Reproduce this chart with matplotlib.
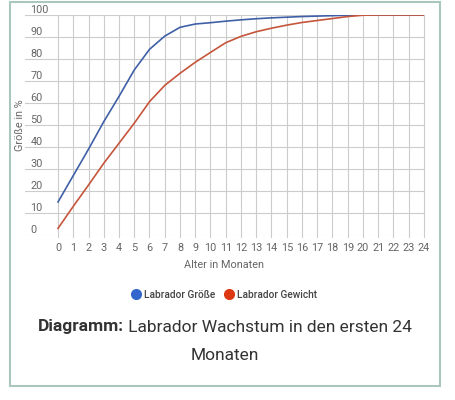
import matplotlib.pyplot as plt
from matplotlib.lines import Line2D
from matplotlib.patches import Rectangle

plt.rcParams['font.family'] = ['Roboto', 'DejaVu Sans']

# Daten (Alter in Monaten, Prozent vom Endwert)
monate = list(range(25))
groesse = [15, 27, 39, 51.5, 63, 75, 84.4, 90.4, 94.4, 95.9, 96.5, 97.2, 97.8,
           98.3, 98.7, 99.0, 99.3, 99.5, 99.7, 99.9, 100, 100, 100, 100, 100]
gewicht = [3, 13, 22.7, 32.6, 41.7, 50.8, 60.6, 68.0, 73.5, 78.5, 83.0, 87.4, 90.3,
           92.4, 94.0, 95.4, 96.6, 97.5, 98.4, 99.3, 99.9, 100, 100, 100, 100]
y_ticks = [0, 10, 20, 30, 40, 50, 60, 70, 80, 90, 100]

fig = plt.figure(figsize=(4.56, 4.0), dpi=100)

# Rahmen
fig.patches.append(Rectangle((10 / 456, 14 / 400), 430 / 456, 384 / 400,
                             transform=fig.transFigure, fill=False,
                             edgecolor='#a9c7bd', lw=1.5))

ax = fig.add_axes([25 / 456, 165 / 400, 399 / 456, 220 / 400])
x_min = (25 - 58) / 15.25
ax.set_xlim(x_min, 24)
ax.set_ylim(0, 100)
for s in ax.spines.values():
    s.set_visible(False)

# Gitter
for m in monate:
    ax.plot([m, m], [-1, 100], color='#cccccc', lw=0.8, zorder=1, clip_on=False)
for v in y_ticks:
    ax.axhline(v, color='#cccccc', lw=0.8, zorder=1)
    ax.text(x_min + 0.35, v + 2.4, str(v), ha='left', va='center',
            fontsize=7.8, color='#666666')

ax.plot(monate, groesse, color='#3f5fa6', lw=1.2, zorder=3)
ax.plot(monate, gewicht, color='#c5553b', lw=1.2, zorder=3)

ax.set_yticks([])
ax.set_xticks(monate)
ax.set_xticklabels([str(m) for m in monate], fontsize=7.8, color='#666666')
ax.tick_params(axis='x', length=0, pad=6)
ax.set_xlabel('Alter in Monaten', fontsize=7.8, color='#666666', labelpad=5)

fig.text(20 / 456, 1 - 125 / 400, 'Größe in %', rotation=90, ha='center',
         va='center', fontsize=7.8, color='#666666')

# Legende
handles = [Line2D([], [], ls='', marker='o', ms=7, color='#3366cc'),
           Line2D([], [], ls='', marker='o', ms=7, color='#dc3912')]
leg = fig.legend(handles, ['Labrador Größe', 'Labrador Gewicht'], ncol=2,
                 loc='center', bbox_to_anchor=(224 / 456, 1 - 295 / 400),
                 frameon=False, handletextpad=0.3, columnspacing=0.9,
                 handlelength=1.0, prop={'size': 7.3, 'weight': 'medium'})
for t in leg.get_texts():
    t.set_color('#444444')

# Bildunterschrift: fetter Teil + normaler Teil, zusammen zentriert
y_cap = 1 - 327 / 400
t1 = fig.text(0, y_cap, 'Diagramm:', fontsize=12.5, weight='bold',
              color='#333333', ha='left', va='center')
t2 = fig.text(0, y_cap, ' Labrador Wachstum in den ersten 24', fontsize=12.5,
              color='#333333', ha='left', va='center')
r = fig.canvas.get_renderer()
w1 = t1.get_window_extent(r).width
w2 = t2.get_window_extent(r).width
x0 = 225 - (w1 + w2) / 2
t1.set_x(x0 / 456)
t2.set_x((x0 + w1) / 456)
fig.text(225 / 456, 1 - 355 / 400, 'Monaten', fontsize=12.5, color='#333333',
         ha='center', va='center')

fig.savefig('out.png', dpi=100, facecolor='white')
